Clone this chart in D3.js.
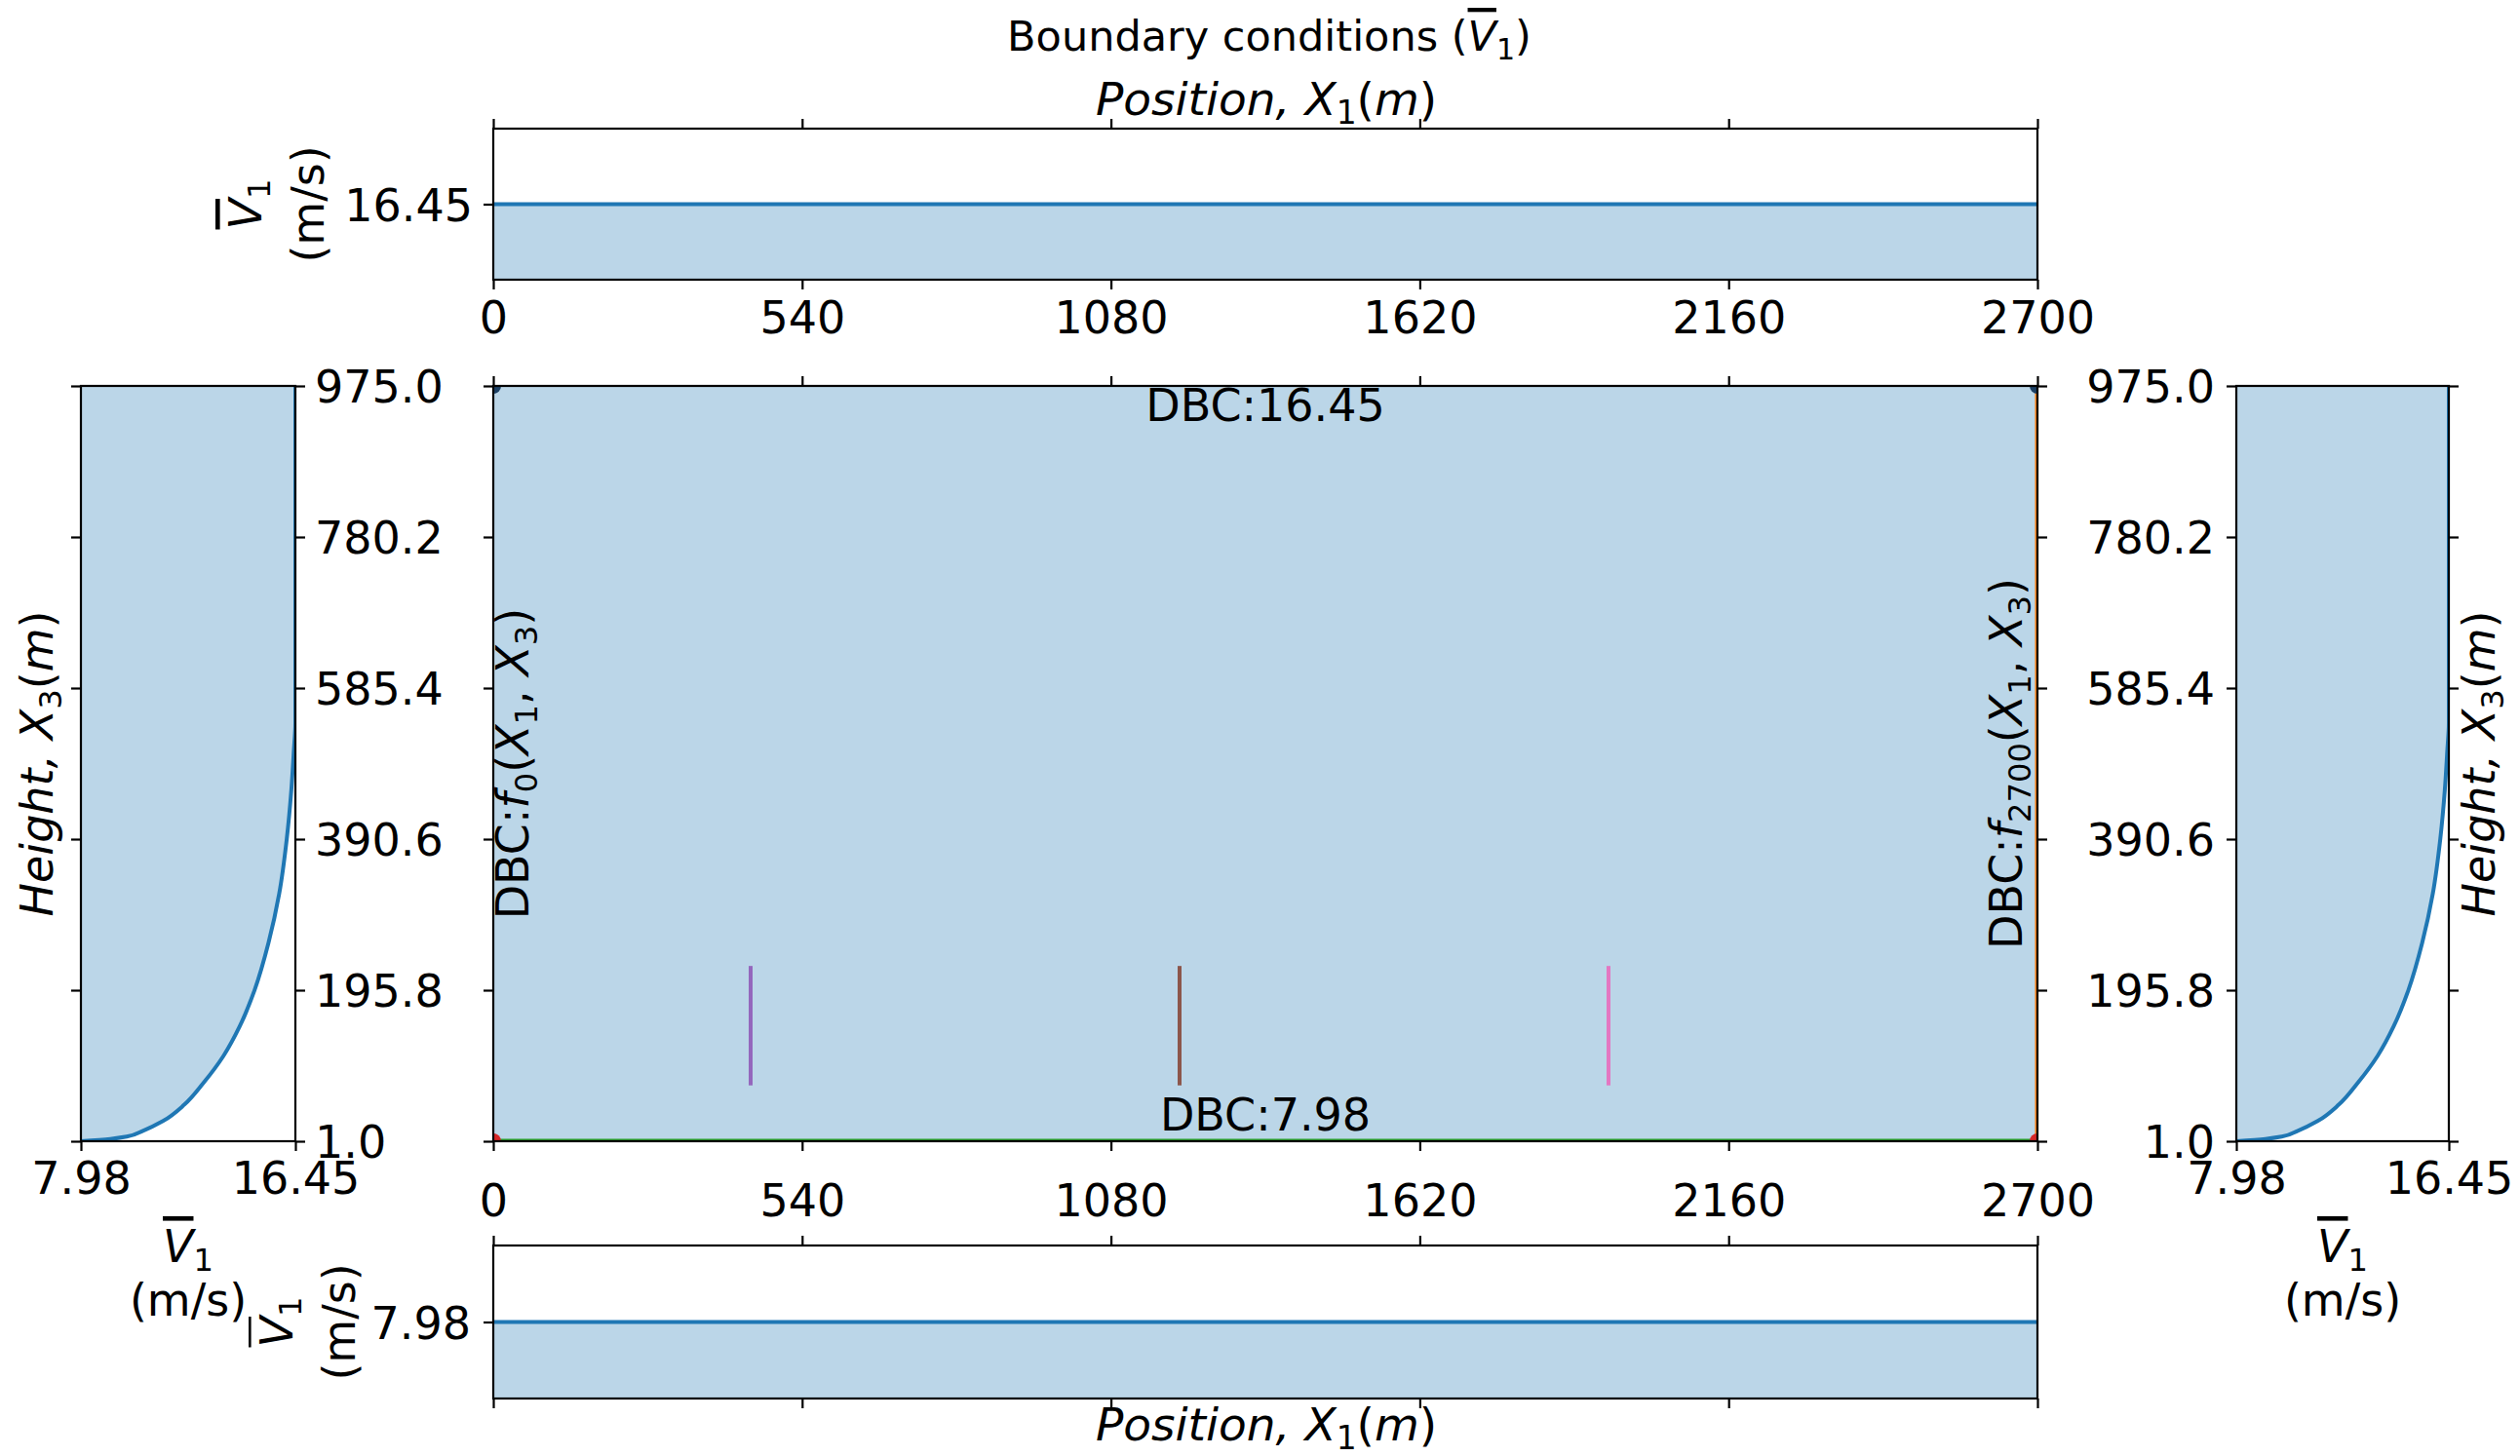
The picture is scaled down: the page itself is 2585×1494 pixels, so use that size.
<!DOCTYPE html>
<html>
<head>
<meta charset="utf-8">
<script src="https://cdn.jsdelivr.net/npm/d3@7"></script>
<style>
  html, body { margin: 0; padding: 0; background: #fff; }
  svg { display: block; }
  text { font-family: "DejaVu Sans", sans-serif; fill: #000; }
</style>
</head>
<body>
<svg id="chart" width="2585" height="1494"></svg>
<script>
// ---------------- data ----------------
const positionTicks = [0, 540, 1080, 1620, 2160, 2700];
const heightTicks = [1.0, 195.8, 390.6, 585.4, 780.2, 975.0];
const speedTicks = [7.98, 16.45];
const positionRange = [0, 2700];
const heightRange = [1, 975];
const topBoundaryValue = 16.45;     // V1 at top (X3 = 975)
const bottomBoundaryValue = 7.98;   // V1 at bottom (X3 = 1)
// inlet / outlet velocity profile
const profileHeight = [1, 3.9, 6.9, 14.4, 27, 48, 77, 111, 149, 196, 257, 320, 391, 454, 505, 540, 975];
const profileSpeed  = [7.98, 9.14, 9.79, 10.43, 11.22, 12.06, 12.84, 13.61, 14.25, 14.84, 15.39, 15.81, 16.11, 16.29, 16.39, 16.45, 16.45];
// probe lines inside the domain
const probePosition = [450, 1200, 1950];
const probeHeight = [73, 227];
const probeColors = ["#9467bd", "#8c564b", "#e377c2"];
const cornerPoints = [
  {x: 0, z: 975, c: "#1b3f63"}, {x: 2700, z: 975, c: "#1b3f63"},
  {x: 0, z: 1, c: "#d62728"}, {x: 2700, z: 1, c: "#d62728"}
];

// ---------------- layout ----------------
const FS = 46;
const C0 = "#1f77b4";
const FILL = "rgba(31,119,180,0.3)";
const svg = d3.select("#chart");
const defs = svg.append("defs");

const xMain = d3.scaleLinear().domain(positionRange).range([506, 2090]);
const yMain = d3.scaleLinear().domain(heightRange).range([1171, 396]);
const yTop = d3.scaleLinear().domain([topBoundaryValue * 0.95, topBoundaryValue * 1.05]).range([287, 132]);
const yBot = d3.scaleLinear().domain([bottomBoundaryValue * 0.95, bottomBoundaryValue * 1.05]).range([1435, 1278]);
const xLeft = d3.scaleLinear().domain(speedTicks).range([83, 303]);
const xRight = d3.scaleLinear().domain(speedTicks).range([2294, 2512]);

function clip(id, x0, y0, x1, y1) {
  defs.append("clipPath").attr("id", id).append("rect")
    .attr("x", x0).attr("y", y0).attr("width", x1 - x0).attr("height", y1 - y0);
  return "url(#" + id + ")";
}

function styleAxis(g) {
  g.select(".domain").remove();
  g.selectAll(".tick line").attr("stroke", "#000").attr("stroke-width", 2.2);
  g.selectAll(".tick text").attr("font-size", FS).attr("font-family", "DejaVu Sans").attr("fill", "#000");
  return g;
}

function axis(maker, scale, ticks, fmt, pad, tx, ty, label) {
  const a = maker(scale).tickValues(ticks).tickSize(10).tickPadding(pad)
    .tickFormat(label ? fmt : () => "");
  const g = svg.append("g").attr("transform", `translate(${tx},${ty})`).call(a);
  styleAxis(g);
  return g;
}

function spine(x0, y0, x1, y1) {
  svg.append("rect").attr("x", x0).attr("y", y0).attr("width", x1 - x0).attr("height", y1 - y0)
    .attr("fill", "none").attr("stroke", "#000").attr("stroke-width", 2.2);
}

// math-like text: parts = [{t, it, sub, over}]
function mtext(parent, parts, fs) {
  const t = parent.append("text").attr("font-size", fs);
  let shifted = false;
  parts.forEach(p => {
    const s = t.append("tspan").text(p.t);
    if (p.it) s.attr("font-style", "italic");
    if (p.over) s.style("text-decoration", "overline");
    if (p.sub) {
      s.attr("font-size", fs * 0.7);
      if (!shifted) { s.attr("dy", fs * 0.2); shifted = true; }
    } else if (shifted) {
      s.attr("dy", -fs * 0.2); shifted = false;
    }
  });
  return t;
}

const vLabel = [{t: "V", it: true, over: true}, {t: "1", sub: true}];
const posLabel = [{t: "Position,", it: true}, {t: " "}, {t: "X", it: true}, {t: "1", sub: true}, {t: "("}, {t: "m", it: true}, {t: ")"}];
const hgtLabel = [{t: "Height,", it: true}, {t: " "}, {t: "X", it: true}, {t: "3", sub: true}, {t: "("}, {t: "m", it: true}, {t: ")"}];

// ---------------- title ----------------
mtext(svg, [{t: "Boundary conditions ("}, {t: "V", it: true, over: true}, {t: "1", sub: true}, {t: ")"}], 43)
  .attr("x", 1302).attr("y", 52).attr("text-anchor", "middle");
mtext(svg, posLabel, 47).attr("x", 1299).attr("y", 118).attr("text-anchor", "middle");

// ---------------- top panel ----------------
const cTop = clip("cTop", 506, 132, 2090, 287);
const gTop = svg.append("g").attr("clip-path", cTop);
gTop.append("path").datum(positionRange)
  .attr("d", d3.area().x(d => xMain(d)).y0(yTop(yTop.domain()[0])).y1(yTop(topBoundaryValue)))
  .attr("fill", FILL);
gTop.append("path").datum(positionRange)
  .attr("d", d3.line().x(d => xMain(d)).y(yTop(topBoundaryValue)))
  .attr("stroke", C0).attr("stroke-width", 4).attr("fill", "none");
axis(d3.axisBottom, xMain, positionTicks, d3.format("d"), 12, 0, 287, true);
axis(d3.axisTop, xMain, positionTicks, null, 12, 0, 132, false);
axis(d3.axisLeft, yTop, [topBoundaryValue], d => d.toFixed(2), 11, 506, 0, true)
  .selectAll(".tick text").attr("dy", "0.36em");
spine(506, 132, 2090, 287);
{
  const g = svg.append("g").attr("transform", `translate(0,${yTop(topBoundaryValue)}) rotate(-90)`);
  mtext(g, vLabel, FS).attr("x", 0).attr("y", 268).attr("text-anchor", "middle");
  g.append("text").attr("font-size", FS).attr("x", 0).attr("y", 332).attr("text-anchor", "middle").text("(m/s)");
}

// ---------------- main panel ----------------
const cMain = clip("cMain", 506, 396, 2090, 1171);
const gMain = svg.append("g").attr("clip-path", cMain);
gMain.append("path").datum(positionRange)
  .attr("d", d3.area().x(d => xMain(d)).y0(yMain(heightRange[0])).y1(yMain(heightRange[1])))
  .attr("fill", FILL);
probePosition.forEach((p, i) => {
  gMain.append("path").datum(probeHeight)
    .attr("d", d3.line().x(xMain(p)).y(d => yMain(d)))
    .attr("stroke", probeColors[i]).attr("stroke-width", 4).attr("fill", "none");
});
gMain.append("path").datum(positionRange)
  .attr("d", d3.line().x(d => xMain(d)).y(yMain(heightRange[0])))
  .attr("stroke", "#2ca02c").attr("stroke-width", 5).attr("fill", "none");
gMain.append("path").datum(heightRange)
  .attr("d", d3.line().x(xMain(positionRange[1])).y(d => yMain(d)))
  .attr("stroke", "#ff7f0e").attr("stroke-width", 5).attr("fill", "none");
gMain.selectAll("circle.corner").data(cornerPoints).join("circle")
  .attr("cx", d => xMain(d.x)).attr("cy", d => yMain(d.z)).attr("r", 8).attr("fill", d => d.c);

axis(d3.axisBottom, xMain, positionTicks, d3.format("d"), 34, 0, 1171, true);
axis(d3.axisTop, xMain, positionTicks, null, 12, 0, 396, false);
axis(d3.axisLeft, yMain, heightTicks, null, 12, 506, 0, false);
axis(d3.axisRight, yMain, heightTicks, null, 12, 2090, 0, false);
spine(506, 396, 2090, 1171);

const midX = (positionRange[0] + positionRange[1]) / 2;
const midZ = (heightRange[0] + heightRange[1]) / 2;
svg.append("text").attr("font-size", FS).attr("text-anchor", "middle")
  .attr("x", xMain(midX)).attr("y", yMain(heightRange[1]) + 36).text("DBC:" + topBoundaryValue.toFixed(2));
svg.append("text").attr("font-size", FS).attr("text-anchor", "middle")
  .attr("x", xMain(midX)).attr("y", yMain(heightRange[0]) - 11).text("DBC:" + bottomBoundaryValue.toFixed(2));
{
  const g = svg.append("g").attr("transform", `translate(${xMain(positionRange[0]) + 36},${yMain(midZ)}) rotate(-90)`);
  mtext(g, [{t: "DBC:"}, {t: "f", it: true}, {t: "0", sub: true}, {t: "("}, {t: "X", it: true}, {t: "1", sub: true},
            {t: ", "}, {t: "X", it: true}, {t: "3", sub: true}, {t: ")"}], FS)
    .attr("x", 0).attr("y", 0).attr("text-anchor", "middle");
  const g2 = svg.append("g").attr("transform", `translate(${xMain(positionRange[1]) - 16},${yMain(midZ)}) rotate(-90)`);
  mtext(g2, [{t: "DBC:"}, {t: "f", it: true}, {t: "2700", sub: true}, {t: "("}, {t: "X", it: true}, {t: "1", sub: true},
            {t: ", "}, {t: "X", it: true}, {t: "3", sub: true}, {t: ")"}], FS)
    .attr("x", 0).attr("y", 0).attr("text-anchor", "middle");
}

// ---------------- side panels ----------------
const profile = profileHeight.map((h, i) => ({h, v: profileSpeed[i]}));
function sidePanel(xs, id, labelSide) {
  const [x0, x1] = xs.range();
  const cp = clip(id, x0, 396, x1, 1171);
  const g = svg.append("g").attr("clip-path", cp);
  g.append("path").datum(profile)
    .attr("d", d3.area().curve(d3.curveMonotoneY).y(d => yMain(d.h)).x0(xs(speedTicks[0])).x1(d => xs(d.v)))
    .attr("fill", FILL);
  g.append("path").datum(profile)
    .attr("d", d3.line().curve(d3.curveMonotoneY).y(d => yMain(d.h)).x(d => xs(d.v)))
    .attr("stroke", C0).attr("stroke-width", 4).attr("fill", "none");
  axis(d3.axisBottom, xs, speedTicks, d => d.toFixed(2), 11, 0, 1171, true);
  axis(d3.axisLeft, yMain, heightTicks, d => d.toFixed(1), 12, x0, 0, labelSide === "left")
    .selectAll(".tick text").attr("dy", "0.36em");
  axis(d3.axisRight, yMain, heightTicks, d => d.toFixed(1), 10, x1, 0, labelSide === "right")
    .selectAll(".tick text").attr("dy", "0.36em");
  spine(x0, 396, x1, 1171);
  const cx = (x0 + x1) / 2;
  mtext(svg, vLabel, FS).attr("x", cx).attr("y", 1295).attr("text-anchor", "middle");
  svg.append("text").attr("font-size", FS).attr("x", cx).attr("y", 1350).attr("text-anchor", "middle").text("(m/s)");
}
sidePanel(xLeft, "cLeft", "right");
sidePanel(xRight, "cRight", "left");
{
  const g = svg.append("g").attr("transform", `translate(54,${yMain(midZ)}) rotate(-90)`);
  mtext(g, hgtLabel, FS).attr("x", 0).attr("y", 0).attr("text-anchor", "middle");
  const g2 = svg.append("g").attr("transform", `translate(2559,${yMain(midZ)}) rotate(-90)`);
  mtext(g2, hgtLabel, FS).attr("x", 0).attr("y", 0).attr("text-anchor", "middle");
}

// ---------------- bottom panel ----------------
const cBot = clip("cBot", 506, 1278, 2090, 1435);
const gBot = svg.append("g").attr("clip-path", cBot);
gBot.append("path").datum(positionRange)
  .attr("d", d3.area().x(d => xMain(d)).y0(yBot(yBot.domain()[0])).y1(yBot(bottomBoundaryValue)))
  .attr("fill", FILL);
gBot.append("path").datum(positionRange)
  .attr("d", d3.line().x(d => xMain(d)).y(yBot(bottomBoundaryValue)))
  .attr("stroke", C0).attr("stroke-width", 4).attr("fill", "none");
axis(d3.axisBottom, xMain, positionTicks, null, 12, 0, 1435, false);
axis(d3.axisTop, xMain, positionTicks, null, 12, 0, 1278, false);
axis(d3.axisLeft, yBot, [bottomBoundaryValue], d => d.toFixed(2), 13, 506, 0, true)
  .selectAll(".tick text").attr("dy", "0.36em");
spine(506, 1278, 2090, 1435);
{
  const g = svg.append("g").attr("transform", `translate(0,${yBot(bottomBoundaryValue)}) rotate(-90)`);
  mtext(g, vLabel, FS).attr("x", 0).attr("y", 300).attr("text-anchor", "middle");
  g.append("text").attr("font-size", FS).attr("x", 0).attr("y", 364).attr("text-anchor", "middle").text("(m/s)");
}
mtext(svg, posLabel, 47).attr("x", 1299).attr("y", 1478).attr("text-anchor", "middle");
</script>
</body>
</html>
